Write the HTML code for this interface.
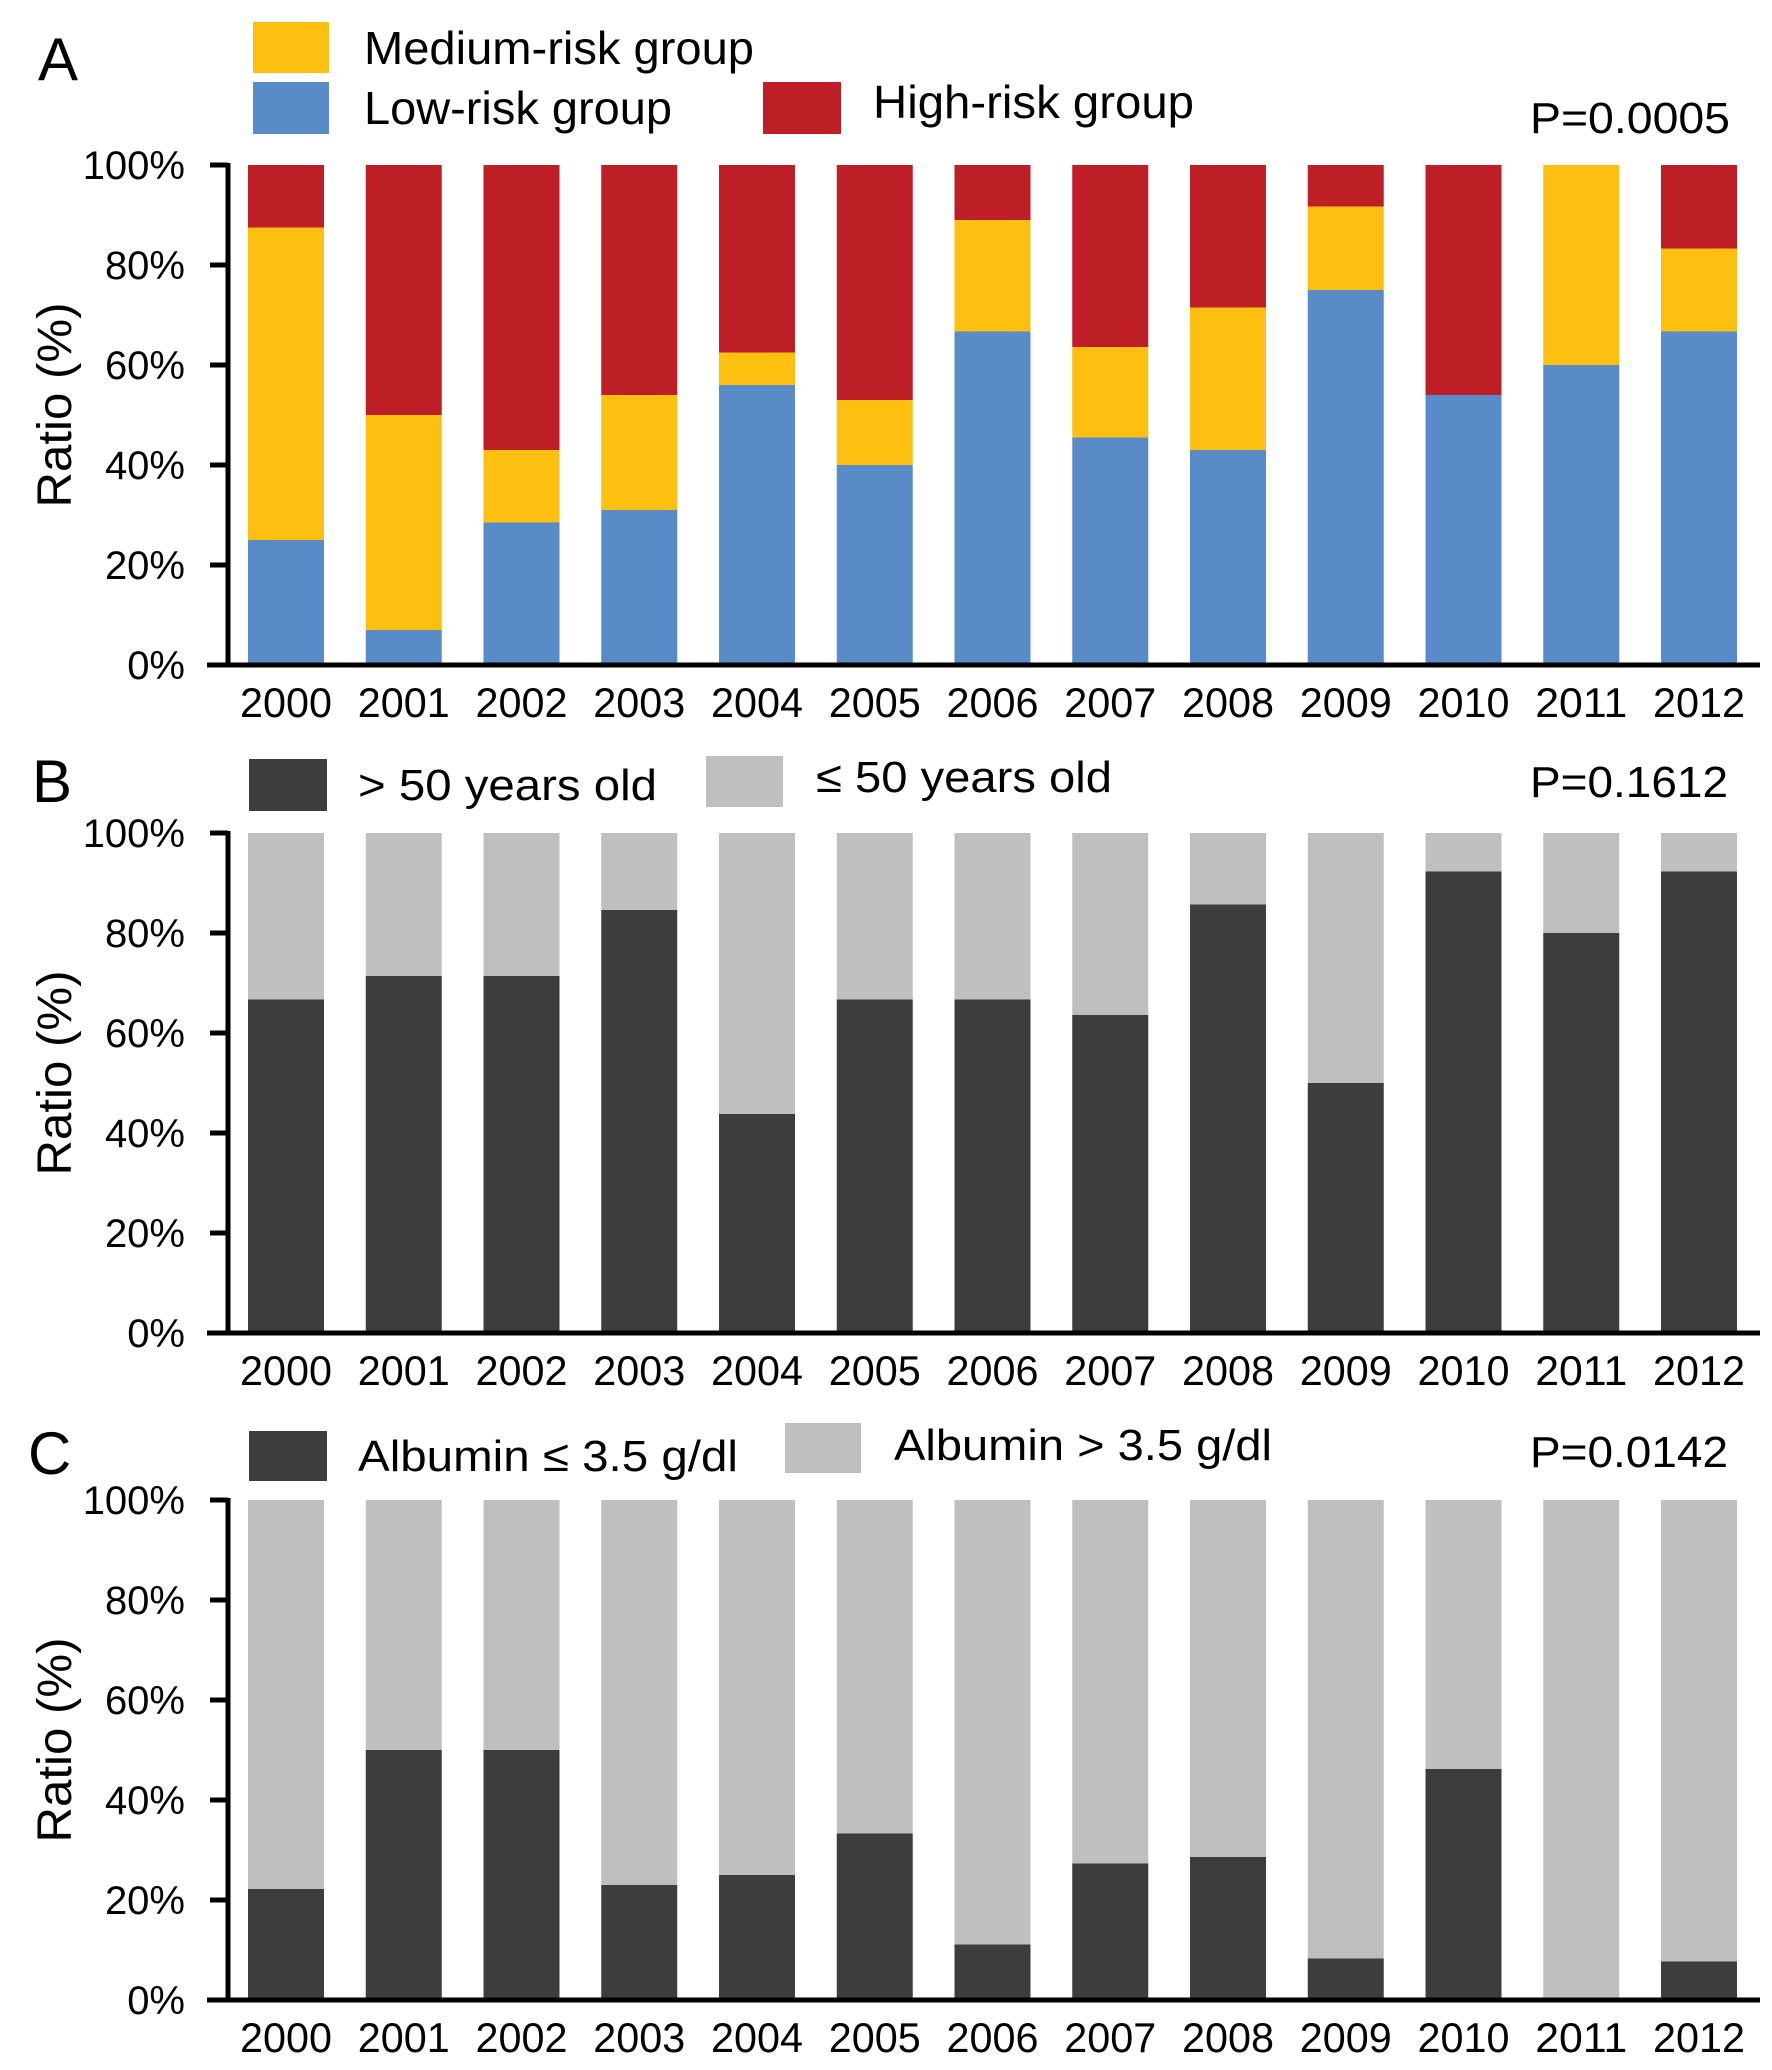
<!DOCTYPE html>
<html><head><meta charset="utf-8"><style>
html,body{margin:0;padding:0;background:#fff}
svg{display:block}
text{font-family:"Liberation Sans",sans-serif;fill:#000}
</style></head><body>
<svg id="fig" width="1772" height="2070" viewBox="0 0 1772 2070" xmlns="http://www.w3.org/2000/svg"></svg>
<script>
const years = ['2000','2001','2002','2003','2004','2005','2006','2007','2008','2009','2010','2011','2012'];
const yTicks = [0,20,40,60,80,100];
const tickLabels = ['0%','20%','40%','60%','80%','100%'];
const lowRisk = [25,7,28.5,31,56,40,66.7,45.5,43,75,54,60,66.7];
const mediumRisk = [62.5,43,14.5,23,6.5,13,22.3,18.1,28.5,16.7,0,40,16.6];
const ageOver50 = [66.7,71.4,71.4,84.6,43.8,66.7,66.7,63.6,85.7,50,92.3,80,92.3];
const albuminLow = [22.2,50,50,23,25,33.3,11.1,27.3,28.6,8.3,46.2,0,7.7];

const NS='http://www.w3.org/2000/svg';
const svg=document.getElementById('fig');
function mk(tag,attrs,parent){const e=document.createElementNS(NS,tag);for(const k in attrs)e.setAttribute(k,attrs[k]);(parent||svg).appendChild(e);return e;}
const X0=286, PITCH=117.75, BW=76;
function xc(i){return X0+i*PITCH;}

function panel(id, top, bottom, stacks){
  const g=mk('g',{});
  
  
  const y=v=>bottom-(v/100)*(bottom-top);
  stacks.forEach(s=>{
    years.forEach((yr,i)=>{
      let base=0;
      for(let k=0;k<s.length;k++){
        const v=s[k].vals(i);
        if(v>0){
          const r=mk('rect',{x:xc(i)-BW/2,y:y(base+v),width:BW,height:y(base)-y(base+v),fill:s[k].color},g);
          
          
        }
        base+=v;
      }
    });
  });
  const ax=mk('line',{x1:228,y1:top-2,x2:228,y2:bottom+2,stroke:'#000','stroke-width':5},g);
  
  
  const bx=mk('line',{x1:207,y1:bottom,x2:1760,y2:bottom,stroke:'#000','stroke-width':5},g);
  
  
  yTicks.forEach((t,j)=>{
    mk('line',{x1:210,y1:y(t),x2:228,y2:y(t),stroke:'#000','stroke-width':5},g);
    const tl=mk('text',{x:185,y:y(t)+14,'text-anchor':'end','font-size':40},g);
    tl.textContent=tickLabels[j];
    
    
  });
  years.forEach((yr,i)=>{
    const t=mk('text',{x:xc(i),y:bottom+52,'text-anchor':'middle','font-size':42,textLength:92,lengthAdjust:'spacingAndGlyphs'},g);
    t.textContent=yr;
    
    
  });
  const cy=(top+bottom)/2-10;
  const ti=mk('text',{x:71,y:cy,'text-anchor':'middle','font-size':48,textLength:205,lengthAdjust:'spacingAndGlyphs',transform:'rotate(-90 71 '+cy+')'},g);
  ti.textContent='Ratio (%)';
  
  
  return g;
}
function label(txt,x,yy,fs,name,len){
  const a={x:x,y:yy,'font-size':fs};
  if(len){a.textLength=len;a.lengthAdjust='spacingAndGlyphs';}
  const t=mk('text',a);t.textContent=txt;
  
  
}
function box(x,y,w,h,c,name){
  const r=mk('rect',{x:x,y:y,width:w,height:h,fill:c});
  
  
}
const BLUE='#588bc8',YEL='#fdbf10',RED='#be1e26',DARK='#3d3d3d',LIGHT='#bfbfbf';

panel('a',165,665,[[
  {name:'low',color:BLUE,vals:i=>lowRisk[i]},
  {name:'medium',color:YEL,vals:i=>mediumRisk[i]},
  {name:'high',color:RED,vals:i=>Math.max(0,100-lowRisk[i]-mediumRisk[i])}
]]);
panel('b',833,1333,[[
  {name:'over50',color:DARK,vals:i=>ageOver50[i]},
  {name:'under50',color:LIGHT,vals:i=>100-ageOver50[i]}
]]);
panel('c',1500,2000,[[
  {name:'albumin-low',color:DARK,vals:i=>albuminLow[i]},
  {name:'albumin-high',color:LIGHT,vals:i=>100-albuminLow[i]}
]]);

label('A',38,80,60,'panel-label-a');
box(253,22,76,51,YEL,'legend-swatch-medium');
label('Medium-risk group',364,64,46,'legend-label-medium',390);
box(253,82,76,52,BLUE,'legend-swatch-low');
label('Low-risk group',364,124,46,'legend-label-low',308);
box(763,82,78,52,RED,'legend-swatch-high');
label('High-risk group',873,118,46,'legend-label-high',321);
label('P=0.0005',1530,133,44,'p-value-a',200);
label('B',32,802,60,'panel-label-b');
box(249,759,78,52,DARK,'legend-swatch-over50');
label('> 50 years old',358,800,44,'legend-label-over50',299);
box(706,756,77,51,LIGHT,'legend-swatch-under50');
label('≤ 50 years old',816,792,44,'legend-label-under50',296);
label('P=0.1612',1530,797,44,'p-value-b',198);
label('C',28,1474,60,'panel-label-c');
box(249,1431,78,50,DARK,'legend-swatch-albumin-low');
label('Albumin ≤ 3.5 g/dl',358,1471,44,'legend-label-albumin-low',380);
box(785,1423,76,50,LIGHT,'legend-swatch-albumin-high');
label('Albumin > 3.5 g/dl',894,1460,44,'legend-label-albumin-high',378);
label('P=0.0142',1530,1467,44,'p-value-c',198);
</script>
</body></html>
